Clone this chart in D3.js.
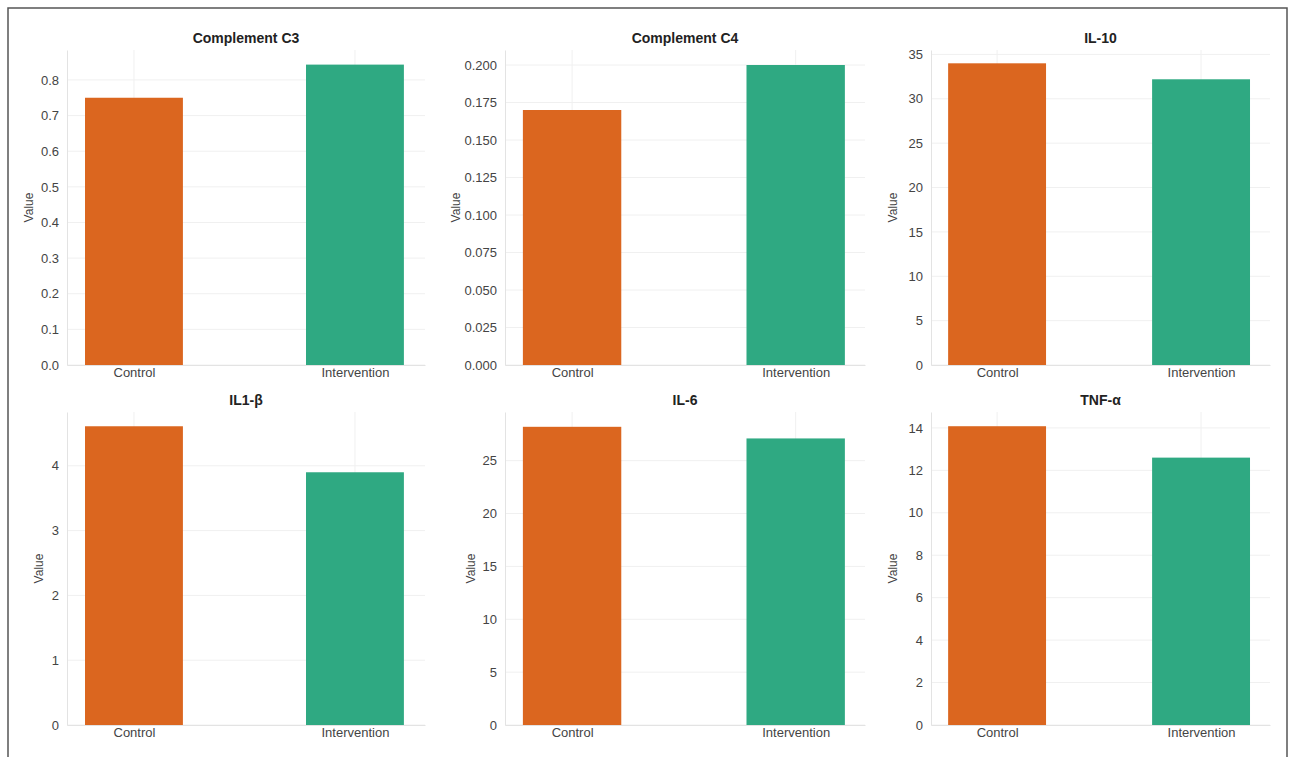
<!DOCTYPE html>
<html><head><meta charset="utf-8">
<script src="https://cdn.jsdelivr.net/npm/d3@7"></script>
<style>body{margin:0;background:#fff}text{font-family:"Liberation Sans",Arial,sans-serif}</style>
</head><body><svg id="c" width="1293" height="757"></svg>
<script>
const groups = ["Control","Intervention"];
const titles = ["Complement C3","Complement C4","IL-10","IL1-β","IL-6","TNF-α"];
const controlValues = [0.75,0.170,34.0,4.61,28.2,14.08];
const interventionValues = [0.843,0.200,32.2,3.90,27.1,12.6];
const yMax = [0.884,0.21,35.5,4.83,29.6,14.75];
const yTicks = [
  [0,0.1,0.2,0.3,0.4,0.5,0.6,0.7,0.8],
  [0,0.025,0.05,0.075,0.1,0.125,0.15,0.175,0.2],
  [0,5,10,15,20,25,30,35],
  [0,1,2,3,4],
  [0,5,10,15,20,25],
  [0,2,4,6,8,10,12,14]];
const tickFmt = [d3.format(".1f"),d3.format(".3f"),d3.format("d"),d3.format("d"),d3.format("d"),d3.format("d")];
const colors = ["#DB661F","#2FA982"];

const svg = d3.select("#c");
svg.append("path").attr("d","M8,757V8H1287V757").attr("fill","none").attr("stroke","#555").attr("stroke-width",1.5);
const cols = [[67,425],[505,865],[931,1270]];
const xDom = [[-0.303,1.317],[-0.30,1.31],[-0.324,1.338]];
const barW = [0.443,0.44,0.48];
const rows = [[50,365],[412,725]];
const ylabX = [[33,460,897],[43,475,897]];
titles.forEach((t,i)=>{
  const r = Math.floor(i/3), c = i%3;
  const [x0,x1] = cols[c], [y0,y1] = rows[r];
  const x = d3.scaleLinear().domain(xDom[c]).range([x0,x1]);
  const y = d3.scaleLinear().domain([0,yMax[i]]).range([y1,y0]);
  const g = svg.append("g");
  g.selectAll(".gy").data(yTicks[i]).join("line").attr("x1",x0).attr("x2",x1)
    .attr("y1",d=>y(d)).attr("y2",d=>y(d)).attr("stroke","#f0f0f0");
  g.selectAll(".gx").data([0,1]).join("line").attr("x1",d=>x(d)).attr("x2",d=>x(d))
    .attr("y1",y0).attr("y2",y1).attr("stroke","#f0f0f0");
  const vals = [controlValues[i],interventionValues[i]];
  const bw = barW[c];
  g.selectAll("rect").data(vals).join("rect")
    .attr("x",(d,j)=>x(j-bw/2)).attr("width",x(bw)-x(0))
    .attr("y",d=>y(d)).attr("height",d=>y(0)-y(d)).attr("fill",(d,j)=>colors[j]);
  const ya = g.append("g").attr("transform",`translate(${x0},0)`)
    .call(d3.axisLeft(y).tickValues(yTicks[i]).tickFormat(tickFmt[i]).tickSize(0).tickPadding(8));
  ya.select(".domain").attr("stroke","#e3e3e3");
  ya.selectAll("text").attr("font-size",13).attr("fill","#444");
  const xa = g.append("g").attr("transform",`translate(0,${y1})`)
    .call(d3.axisBottom(x).tickValues([0,1]).tickFormat(d=>groups[d]).tickSize(0).tickPadding(3));
  xa.select(".domain").attr("stroke","#e3e3e3");
  xa.selectAll("text").attr("font-size",13).attr("fill","#444");
  g.append("text").attr("x",(x0+x1)/2).attr("y",y0-7).attr("text-anchor","middle")
    .attr("font-size",14).attr("font-weight","bold").attr("fill","#222").text(t);
  g.append("text").attr("transform",`translate(${ylabX[r][c]},${(y0+y1)/2}) rotate(-90)`)
    .attr("text-anchor","middle").attr("font-size",12).attr("fill","#444").text("Value");
});
</script></body></html>
